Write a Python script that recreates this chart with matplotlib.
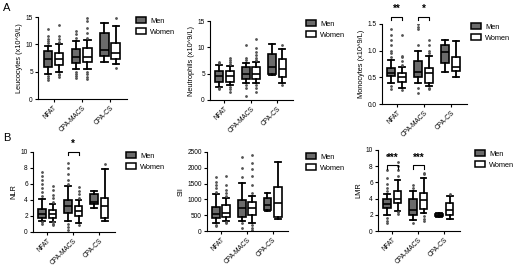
import matplotlib
matplotlib.use("Agg")
import matplotlib.pyplot as plt
from matplotlib.patches import Patch

plt.rcParams['font.family'] = ['Liberation Sans', 'DejaVu Sans']

groups = ["NFAT", "CPA-MACS", "CPA-CS"]
sexes = ["Men", "Women"]

# stats per panel: for each group, [men, women]; each = (whislo, q1, med, q3, whishi, fliers)
leuco = [
    [(4.6, 5.8, 7.4, 8.8, 9.7, [10.2, 10.6, 11.0, 11.5, 12.8, 4.2, 3.8, 3.4]),
     (5.0, 6.2, 7.3, 8.4, 10.0, [10.5, 11.0, 11.6, 13.6, 4.6, 4.3, 4.1])],
    [(5.5, 6.6, 7.6, 9.2, 10.6, [11.2, 11.8, 12.4, 5.0, 4.6, 4.2, 3.9]),
     (5.4, 6.8, 7.7, 9.4, 10.8, [11.2, 12.1, 13.0, 14.2, 14.9, 5.0, 4.5, 4.0, 3.6])],
    [(6.8, 7.8, 9.0, 12.0, 13.9, []),
     (6.4, 7.3, 8.5, 10.2, 13.3, [14.8, 5.7])],
]
neutro = [
    [(2.5, 3.4, 4.6, 5.6, 6.6, [7.0, 7.3, 2.2, 2.0]),
     (2.8, 3.4, 4.5, 5.5, 6.4, [6.8, 7.2, 7.6, 8.0, 2.5, 2.0, 1.6])],
    [(3.2, 4.0, 5.0, 6.2, 7.0, [7.6, 8.0, 10.4, 2.8, 2.2, 0.7]),
     (3.2, 3.9, 5.0, 6.2, 7.2, [7.6, 8.0, 8.5, 9.2, 9.8, 11.5, 2.8, 2.2, 1.6])],
    [(4.8, 5.0, 6.3, 8.8, 10.7, []),
     (3.3, 4.4, 5.8, 7.8, 9.7, [10.4, 2.8])],
]
mono = [
    [(0.40, 0.52, 0.58, 0.68, 0.83, [0.88, 0.95, 1.0, 1.1, 1.2, 1.3, 1.4, 0.33, 0.28]),
     (0.30, 0.41, 0.50, 0.58, 0.70, [0.74, 0.80, 0.88, 0.90, 1.3, 0.27])],
    [(0.40, 0.50, 0.60, 0.80, 0.99, [1.1, 1.4, 1.45, 1.5, 0.30, 0.20]),
     (0.33, 0.40, 0.58, 0.68, 0.90, [0.95, 1.0, 1.1, 1.2, 0.30, 0.28])],
    [(0.60, 0.76, 0.98, 1.10, 1.20, []),
     (0.50, 0.62, 0.70, 0.88, 1.19, [])],
]
nlr = [
    [(1.4, 1.8, 2.3, 2.9, 4.1, [4.5, 5.0, 5.5, 6.0, 6.5, 7.0, 7.5, 1.2, 1.0]),
     (1.3, 1.8, 2.2, 2.8, 3.5, [3.8, 4.2, 4.6, 5.2, 5.7, 1.2, 1.0, 0.9])],
    [(1.4, 2.4, 3.2, 4.0, 5.8, [6.0, 6.5, 7.2, 8.0, 8.6, 1.0, 0.6, 0.2]),
     (1.1, 2.0, 2.6, 3.2, 4.0, [4.3, 4.7, 5.1, 5.6, 0.9])],
    [(3.0, 3.5, 3.8, 4.8, 5.1, []),
     (1.4, 1.8, 3.2, 4.2, 7.9, [8.5])],
]
sii = [
    [(250, 400, 550, 750, 1170, [1250, 1350, 1450, 1550, 1700, 200, 150]),
     (330, 450, 580, 820, 1050, [1100, 1200, 1300, 1450, 1750, 300, 250])],
    [(330, 450, 720, 980, 1520, [1700, 2000, 2350, 250, 100]),
     (250, 500, 740, 930, 1100, [1200, 1450, 1750, 1950, 2150, 2400, 200, 100, 30])],
    [(620, 660, 820, 1050, 1200, []),
     (380, 450, 900, 1400, 2180, [])],
]
lmr = [
    [(2.0, 2.9, 3.3, 3.9, 4.6, [4.9, 5.3, 5.8, 6.5, 7.5, 9.4, 1.6, 1.2, 1.0]),
     (2.5, 3.4, 4.0, 4.9, 6.3, [6.8, 7.5, 8.0, 8.5, 2.3, 2.1])],
    [(1.3, 2.0, 2.6, 3.9, 5.0, [5.3, 5.7, 1.0]),
     (2.2, 2.7, 3.8, 4.7, 6.6, [7.0, 7.2, 1.8, 1.5, 1.2])],
    [(1.7, 1.8, 1.9, 2.1, 2.2, []),
     (1.5, 2.0, 2.6, 3.5, 4.3, [4.6])],
]

ylabels = ["Leucocytes (x10^9/L)", "Neutrophils (x10^9/L)", "Monocytes (x10^9/L)",
           "NLR", "SII", "LMR"]
yticks = [[0, 5, 10, 15], [0, 5, 10, 15], [0.0, 0.5, 1.0, 1.5],
          [0, 2, 4, 6, 8, 10], [0, 500, 1000, 1500, 2000, 2500], [0, 2, 4, 6, 8, 10]]
ytick_fmt = ["{:.0f}", "{:.0f}", "{:.1f}", "{:.0f}", "{:.0f}", "{:.0f}"]
# significance: (group index, label, bracket y, drop y, text y)
sig = [[], [], [(0, "**", 1.625, 1.57, 1.69), (1, "*", 1.625, 1.57, 1.69)],
       [(1, "*", 10.0, 9.6, 10.4)], [],
       [(0, "***", 8.1, 7.6, 8.4), (1, "***", 8.1, 7.6, 8.4)]]

datasets = [leuco, neutro, mono, nlr, sii, lmr]

W, H = 520, 267
# axes rectangles in pixels: left, top, right, bottom
rects = [(38, 17, 127, 99), (210, 21, 293, 100), (382, 24, 467, 104),
         (33, 152, 115, 232), (207, 152, 288, 231), (378, 150, 460, 231)]
legpos = [(136, 17), (306, 20), (471, 23), (126, 152), (306, 153), (475, 150)]

men_color = "#6b6b6b"
fig = plt.figure(figsize=(W / 100, H / 100), dpi=100)

for i, data in enumerate(datasets):
    l, t, r, b = rects[i]
    ax = fig.add_axes([l / W, 1 - b / H, (r - l) / W, (b - t) / H])
    off = 0.2
    width = 0.3
    for gi, pair in enumerate(data):
        for si, st in enumerate(pair):
            wl, q1, med, q3, wh, fl = st
            stats = [dict(whislo=wl, q1=q1, med=med, q3=q3, whishi=wh, fliers=fl)]
            pos = gi + (-off if si == 0 else off)
            ax.bxp(stats, positions=[pos], widths=width, patch_artist=True,
                   boxprops=dict(facecolor=men_color if si == 0 else "white",
                                 edgecolor="black", linewidth=1.2),
                   medianprops=dict(color="black", linewidth=1.2),
                   whiskerprops=dict(color="black", linewidth=1.3),
                   capprops=dict(color="black", linewidth=1.3),
                   capwidths=width * 0.75,
                   flierprops=dict(marker="o", markersize=1.0, markerfacecolor="#555555",
                                   markeredgecolor="#555555", linestyle="none"),
                   manage_ticks=False)
    ax.set_xlim(-0.55, 2.6)
    yt = yticks[i]
    ax.set_ylim(yt[0], yt[-1])
    ax.set_yticks(yt)
    ax.set_yticklabels([ytick_fmt[i].format(v) for v in yt])
    ax.set_xticks(range(3))
    ax.set_xticklabels(groups, rotation=45, ha="right", rotation_mode="anchor")
    ax.tick_params(labelsize=4.7, length=2.5, width=0.8, pad=1.2)
    ax.set_ylabel(ylabels[i], fontsize=5.3, labelpad=2)
    for s in ["top", "right"]:
        ax.spines[s].set_visible(False)
    for s in ["left", "bottom"]:
        ax.spines[s].set_linewidth(0.8)
    for gi, lab, yb, yd, ytx in sig[i]:
        x0, x1 = gi - off, gi + off
        ax.plot([x0, x0, x1, x1], [yd, yb, yb, yd], color="black", lw=0.8, clip_on=False)
        ax.text(gi, ytx, lab, ha="center", va="bottom", fontsize=7, fontweight="bold",
                clip_on=False)
    lx, ly = legpos[i]
    handles = [Patch(facecolor=men_color, edgecolor="black", linewidth=1.1, label="Men"),
               Patch(facecolor="white", edgecolor="black", linewidth=1.1, label="Women")]
    ax.legend(handles=handles, loc="upper left", bbox_to_anchor=(lx / W, 1 - ly / H),
              bbox_transform=fig.transFigure, frameon=False, fontsize=5.3,
              handlelength=1.3, handleheight=0.9, handletextpad=0.6,
              labelspacing=0.5, borderaxespad=0, borderpad=0)

fig.text(3 / W, 1 - 3 / H, "A", fontsize=8, va="top", ha="left")
fig.text(3 / W, 1 - 133 / H, "B", fontsize=8, va="top", ha="left")

fig.savefig("out.png", dpi=100)
